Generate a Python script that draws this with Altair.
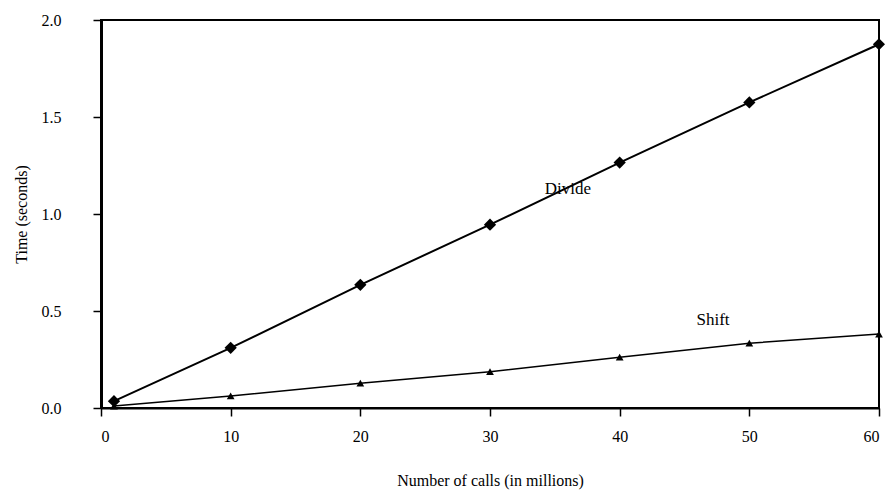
import altair as alt
import pandas as pd

calls = [1, 10, 20, 30, 40, 50, 60]
divide = [0.035, 0.31, 0.635, 0.945, 1.265, 1.575, 1.875]
shift = [0.01, 0.062, 0.128, 0.187, 0.262, 0.334, 0.381]

labels_text = ["Divide", "Shift"]
labels_x = [36.0, 47.2]
labels_y = [1.13, 0.455]

df = pd.DataFrame({
    "calls": calls * 2,
    "time": divide + shift,
    "series": ["Divide"] * len(calls) + ["Shift"] * len(calls),
})
lab = pd.DataFrame({"text": labels_text, "x": labels_x, "y": labels_y})

FONT = "Liberation Serif"

xs = alt.X("calls:Q", scale=alt.Scale(domain=[0, 60], nice=False),
           axis=alt.Axis(values=[0, 10, 20, 30, 40, 50, 60], title="Number of calls (in millions)",
                         grid=False, domainColor="black", domainWidth=2, tickColor="black",
                         tickSize=8, tickWidth=1.5, labelPadding=12, labelFontSize=16,
                         labelFont=FONT, labelColor="black", titleFont=FONT, titleFontSize=16,
                         titleFontWeight="normal", titleColor="black", titlePadding=28))
ys = alt.Y("time:Q", scale=alt.Scale(domain=[0, 2], nice=False),
           axis=alt.Axis(values=[0, 0.5, 1.0, 1.5, 2.0], format=".1f", title="Time (seconds)",
                         grid=False, domainColor="black", domainWidth=3, tickColor="black",
                         tickSize=8, tickWidth=1.5, labelPadding=32, labelFontSize=16,
                         labelFont=FONT, labelColor="black", titleFont=FONT, titleFontSize=16,
                         titleFontWeight="normal", titleColor="black", titlePadding=12))

div = alt.Chart(df).transform_filter(alt.datum.series == "Divide").mark_line(
    color="black", strokeWidth=2,
    point=alt.OverlayMarkDef(shape="diamond", size=150, filled=True, color="black")
).encode(x=xs, y=ys)

shf = alt.Chart(df).transform_filter(alt.datum.series == "Shift").mark_line(
    color="black", strokeWidth=1.5,
    point=alt.OverlayMarkDef(shape="triangle-up", size=60, filled=True, color="black")
).encode(x=xs, y=ys)

txt = alt.Chart(lab).mark_text(font=FONT, fontSize=17, color="black").encode(
    x=alt.X("x:Q"), y=alt.Y("y:Q"), text="text:N")

chart = alt.layer(div, shf, txt).properties(
    width=778, height=388,
    autosize=alt.AutoSizeParams(type="none"),
    padding={"left": 93, "top": 12, "right": 6, "bottom": 86},
).configure(background="white").configure_view(stroke="black", strokeWidth=2)

chart.save("out.html", embed_options={"renderer": "svg", "actions": False})
